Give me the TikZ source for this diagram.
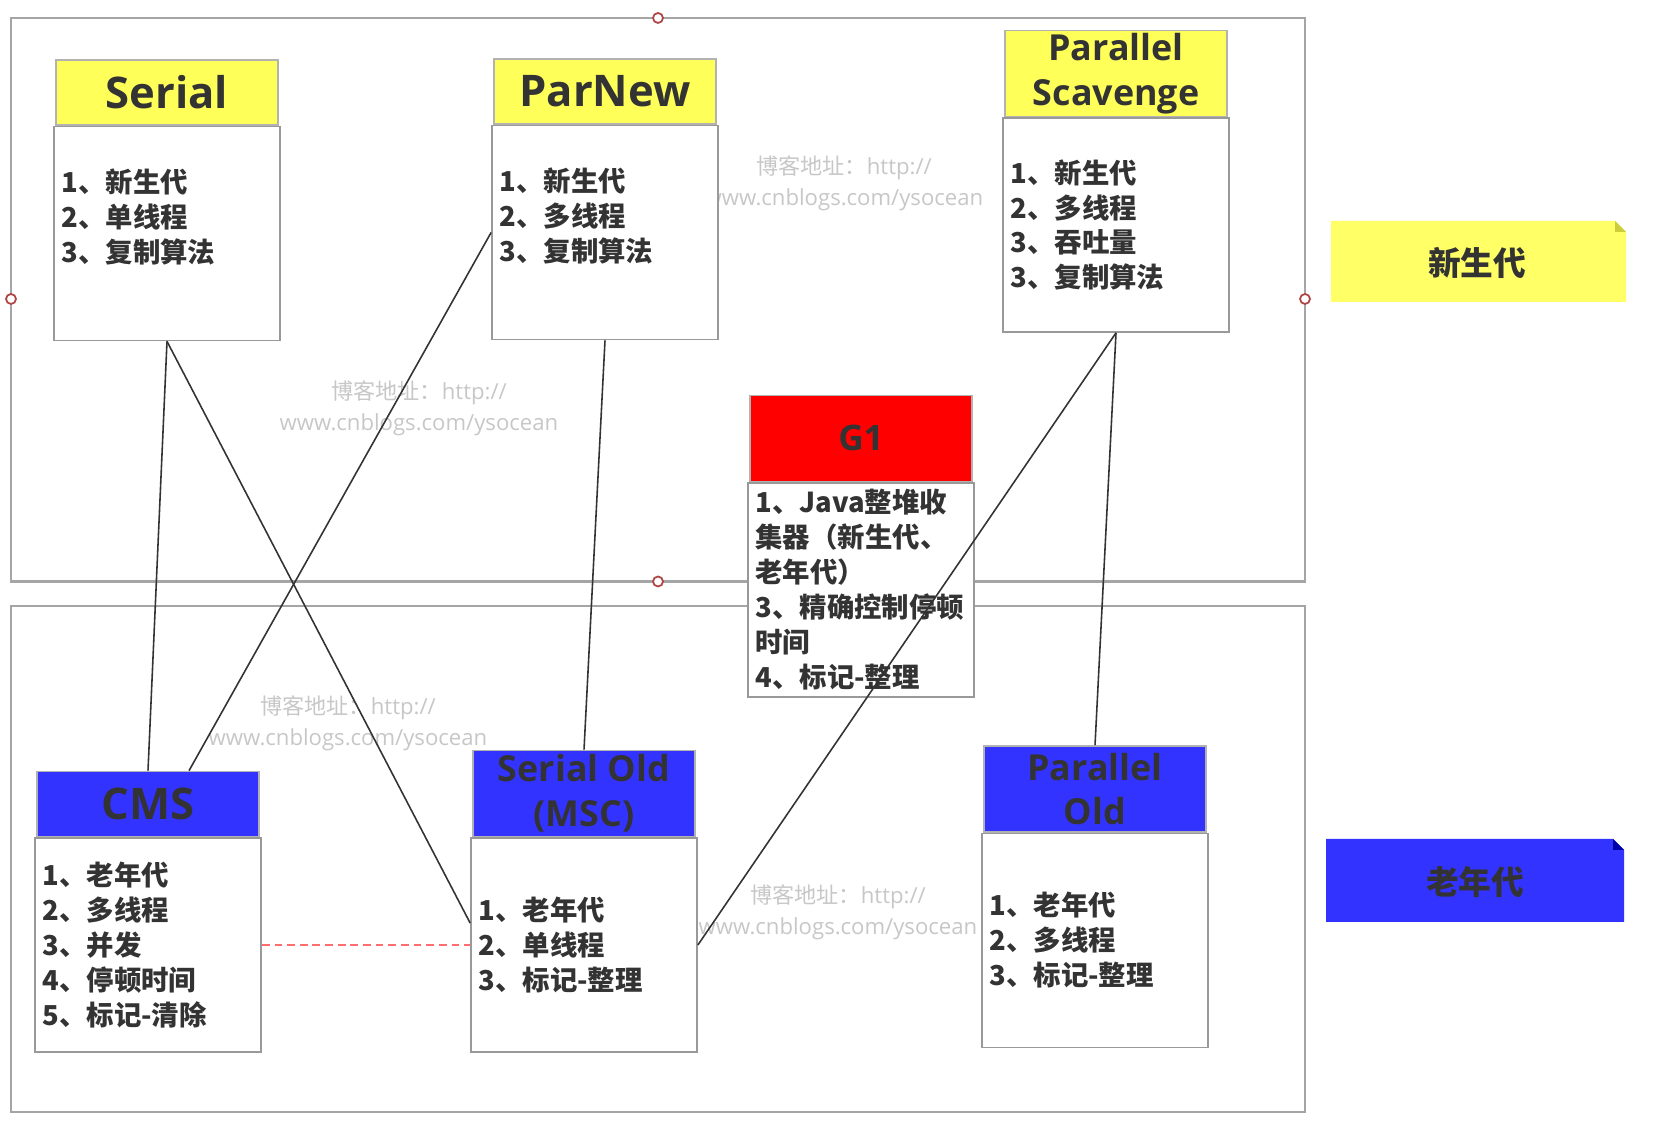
\documentclass[tikz,border=0pt]{standalone}
\usepackage{fontspec}
\setmainfont{Open Sans}
\newfontfamily\cjk{Noto Sans CJK SC}
\usetikzlibrary{positioning,calc}
\definecolor{txt}{RGB}{51,51,51}
\definecolor{hdryellow}{RGB}{255,255,90}
\definecolor{hdrblue}{RGB}{51,51,255}
\definecolor{hdrred}{RGB}{255,0,0}
\definecolor{legyellow}{RGB}{255,255,102}
\definecolor{legyellowdk}{RGB}{205,205,60}
\definecolor{legbluedk}{RGB}{0,0,170}
\definecolor{framegray}{RGB}{165,165,165}
\definecolor{pinred}{RGB}{175,70,70}
\definecolor{dashred}{RGB}{255,110,110}

\tikzset{
  gcbody/.style={draw=black!40,line width=0.5pt,fill=white,minimum width=2.26cm,minimum height=2.14cm,
    text width=2.11cm,inner xsep=0.075cm,inner ysep=0pt,align=left,text=txt,
    font=\cjk\bfseries\fontsize{7.8}{9.95}\selectfont},
  gchead/.style={draw=black!30,line width=0.4pt,minimum width=2.22cm,minimum height=0.65cm,inner sep=0pt,
    align=center,text=txt,font=\bfseries\fontsize{12.4}{12.7}\selectfont},
  gchead2/.style={gchead,minimum height=0.86cm,font=\bfseries\fontsize{10.2}{12.7}\selectfont},
  link/.style={draw=black!80,line width=0.45pt},
  dashlink/.style={draw=dashred,line width=0.5pt,dash pattern=on 2.2pt off 1.4pt},
  pin/.style={draw=pinred,fill=white,line width=0.5pt},
  wmark/.style={text=black!22,align=center,font=\fontsize{6.3}{8.8}\selectfont},
  legendtxt/.style={text=txt,font=\cjk\bfseries\fontsize{9.3}{11}\selectfont}
}

\begin{document}
\begin{tikzpicture}[x=1cm,y=1cm]
\useasboundingbox (0,0) rectangle (16.64,11.30);
% generation frames
\draw[framegray,line width=0.6pt] (0.11,5.485) rectangle (13.05,11.12);
\draw[framegray,line width=0.6pt] (0.11,0.18) rectangle (13.05,5.24);
\draw[pin] (6.58,11.12) circle (0.05);
\draw[pin] (0.11,8.31) circle (0.05);
\draw[pin] (13.05,8.31) circle (0.05);
\draw[pin] (6.58,5.485) circle (0.05);
% watermarks
\node[wmark] (wm1) at (8.44,9.47) {{\cjk 博客地址：}http://\\www.cnblogs.com/ysocean};
\node[wmark] (wm2) at (4.19,7.215) {{\cjk 博客地址：}http://\\www.cnblogs.com/ysocean};
\node[wmark] (wm3) at (3.48,4.07) {{\cjk 博客地址：}http://\\www.cnblogs.com/ysocean};
\node[wmark] (wm4) at (8.38,2.18) {{\cjk 博客地址：}http://\\www.cnblogs.com/ysocean};
% young generation collectors
\node[gcbody] (sbody) at (1.67,8.965) {1、新生代\\2、单线程\\3、复制算法\\~};
\node[gchead,fill=hdryellow,above=0pt of sbody] (shead) {Serial};
\node[gcbody] (pnbody) at (6.05,8.975) {1、新生代\\2、多线程\\3、复制算法\\~};
\node[gchead,fill=hdryellow,above=0pt of pnbody] (pnhead) {ParNew};
\node[gcbody] (psbody) at (11.16,9.05) {1、新生代\\2、多线程\\3、吞吐量\\3、复制算法};
\node[gchead2,fill=hdryellow,above=0pt of psbody] (pshead) {Parallel\\Scavenge};
% whole heap
\node[gcbody] (gbody) at (8.61,5.40) {1、Java整堆收\\集器（新生代、\\老年代）\\3、精确控制停顿\\时间\\4、标记-整理};
\node[gchead2,fill=hdrred,font=\bfseries\fontsize{10}{12}\selectfont,above=0pt of gbody] (ghead) {G1};
% old generation collectors
\node[gcbody] (cmsbody) at (1.48,1.85) {1、老年代\\2、多线程\\3、并发\\4、停顿时间\\5、标记-清除};
\node[gchead,fill=hdrblue,above=0pt of cmsbody] (cmshead) {CMS};
\node[gcbody] (sobody) at (5.84,1.85) {1、老年代\\2、单线程\\3、标记-整理};
\node[gchead2,fill=hdrblue,above=0pt of sobody] (sohead) {Serial Old\\(MSC)};
\node[gcbody] (pobody) at (10.95,1.895) {1、老年代\\2、多线程\\3、标记-整理};
\node[gchead2,fill=hdrblue,above=0pt of pobody] (pohead) {Parallel\\Old};
% legend
\fill[legyellow] (13.31,8.28) -- (13.31,9.09) -- (16.15,9.09) -- (16.26,8.98) -- (16.26,8.28) -- cycle;
\fill[legyellowdk] (16.15,9.09) -- (16.26,8.98) -- (16.15,8.98) -- cycle;
\node[legendtxt] (younglbl) at (14.77,8.67) {新生代};
\fill[hdrblue] (13.26,2.08) -- (13.26,2.91) -- (16.13,2.91) -- (16.24,2.80) -- (16.24,2.08) -- cycle;
\fill[legbluedk] (16.13,2.91) -- (16.24,2.80) -- (16.13,2.80) -- cycle;
\node[legendtxt] (oldlbl) at (14.75,2.48) {老年代};
% combinations
\draw[link] (sbody.south) -- (cmshead.north);
\draw[link] (sbody.south) -- ([yshift=0.22cm]sobody.west);
\draw[link] (pnbody.west) -- ([xshift=0.41cm]cmshead.north);
\draw[link] (pnbody.south) -- (sohead.north);
\draw[link] (psbody.south) -- (sobody.east);
\draw[link] (psbody.south) -- (pohead.north);
\draw[dashlink] (cmsbody.east) -- (sobody.west);
\end{tikzpicture}
\end{document}
